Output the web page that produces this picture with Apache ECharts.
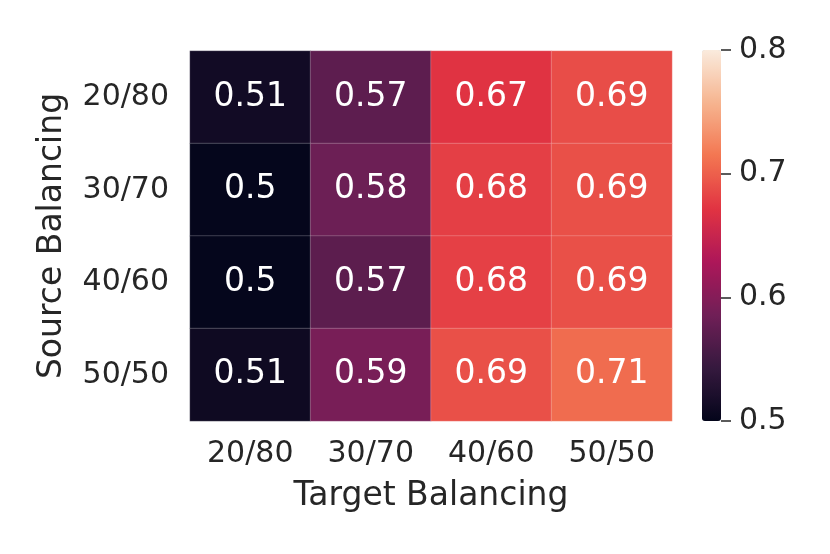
<!DOCTYPE html>
<html>
<head>
<meta charset="utf-8">
<script src="https://cdn.jsdelivr.net/npm/echarts@6/dist/echarts.min.js"></script>
<style>
  html, body { margin: 0; padding: 0; background: #fff; }
  #chart-container { width: 830px; height: 554px; }
</style>
</head>
<body>
<div id="chart-container"></div>
<script>
// data
var targetCats = ["20/80", "30/70", "40/60", "50/50"];
var sourceCats = ["20/80", "30/70", "40/60", "50/50"];
var row2080 = [0.513, 0.572, 0.671, 0.688];
var row3070 = [0.502, 0.583, 0.679, 0.690];
var row4060 = [0.502, 0.571, 0.680, 0.690];
var row5050 = [0.510, 0.591, 0.690, 0.708];
var colorTicks = [0.5, 0.6, 0.7, 0.8];

// rocket colormap, evenly spaced stops
var rocket = ["#03051a", "#35193e", "#701f57", "#ad1759", "#e13342", "#f37651", "#f6b48f", "#faebdd"];

var rows = [row2080, row3070, row4060, row5050];
var cells = [];
rows.forEach(function (r, yi) {
  r.forEach(function (v, xi) {
    cells.push([xi, yi, v]);
  });
});

var FONT = "DejaVu Sans";
var TXT = "#262626";

var chartDom = document.getElementById("chart-container");
var myChart = echarts.init(chartDom);

var option = {
  backgroundColor: "#fff",
  animation: false,
  grid: [
    { left: 190, top: 51, width: 482, height: 370 },
    // colorbar axis
    { left: 702, top: 50, width: 19, height: 371 }
  ],
  xAxis: [
    {
      type: "category",
      gridIndex: 0,
      data: targetCats,
      name: "Target Balancing",
      nameLocation: "middle",
      nameGap: 59,
      nameTextStyle: { fontFamily: FONT, fontSize: 33, color: TXT },
      axisLine: { show: false },
      axisTick: { show: false },
      splitLine: { show: false },
      axisLabel: { fontFamily: FONT, fontSize: 30, color: TXT, margin: 18 }
    },
    {
      type: "category",
      gridIndex: 1,
      data: [""],
      show: false
    }
  ],
  yAxis: [
    {
      type: "category",
      gridIndex: 0,
      data: sourceCats,
      inverse: true,
      name: "Source Balancing",
      nameLocation: "middle",
      nameGap: 121,
      nameTextStyle: { fontFamily: FONT, fontSize: 33, color: TXT },
      axisLine: { show: false },
      axisTick: { show: false },
      splitLine: { show: false },
      axisLabel: { fontFamily: FONT, fontSize: 30, color: TXT, margin: 21 }
    },
    {
      type: "value",
      gridIndex: 1,
      position: "right",
      min: 0.5,
      max: 0.8,
      interval: 0.1,
      axisLine: { show: true, onZero: false, lineStyle: { color: "rgba(0,0,0,0)" } },
      axisTick: { show: true, inside: false, length: 10, lineStyle: { color: TXT, width: 1.5 } },
      splitLine: { show: false },
      axisLabel: {
        fontFamily: FONT, fontSize: 30, color: TXT, margin: 18,
        formatter: function (v) {
          var r = Math.round(v * 10) / 10;
          return colorTicks.indexOf(r) >= 0 ? String(r) : "";
        }
      }
    }
  ],
  visualMap: {
    type: "continuous",
    min: 0.5,
    max: 0.8,
    seriesIndex: 0,
    calculable: false,
    orient: "vertical",
    left: 702,
    top: 50,
    padding: 0,
    itemWidth: 19,
    itemHeight: 371,
    text: null,
    showLabel: false,
    inRange: { color: rocket }
  },
  series: [
    {
      type: "heatmap",
      xAxisIndex: 0,
      yAxisIndex: 0,
      data: cells,
      itemStyle: { borderColor: "rgba(255,255,255,0.35)", borderWidth: 0.6 },
      label: {
        show: true,
        fontFamily: FONT,
        fontSize: 33,
        color: "#fff",
        formatter: function (p) {
          return String(Number(p.value[2].toPrecision(2)));
        }
      },
      emphasis: { disabled: true }
    }
  ]
};

option && myChart.setOption(option);

window.addEventListener("resize", function () {
  myChart.resize();
});
</script>
</body>
</html>
